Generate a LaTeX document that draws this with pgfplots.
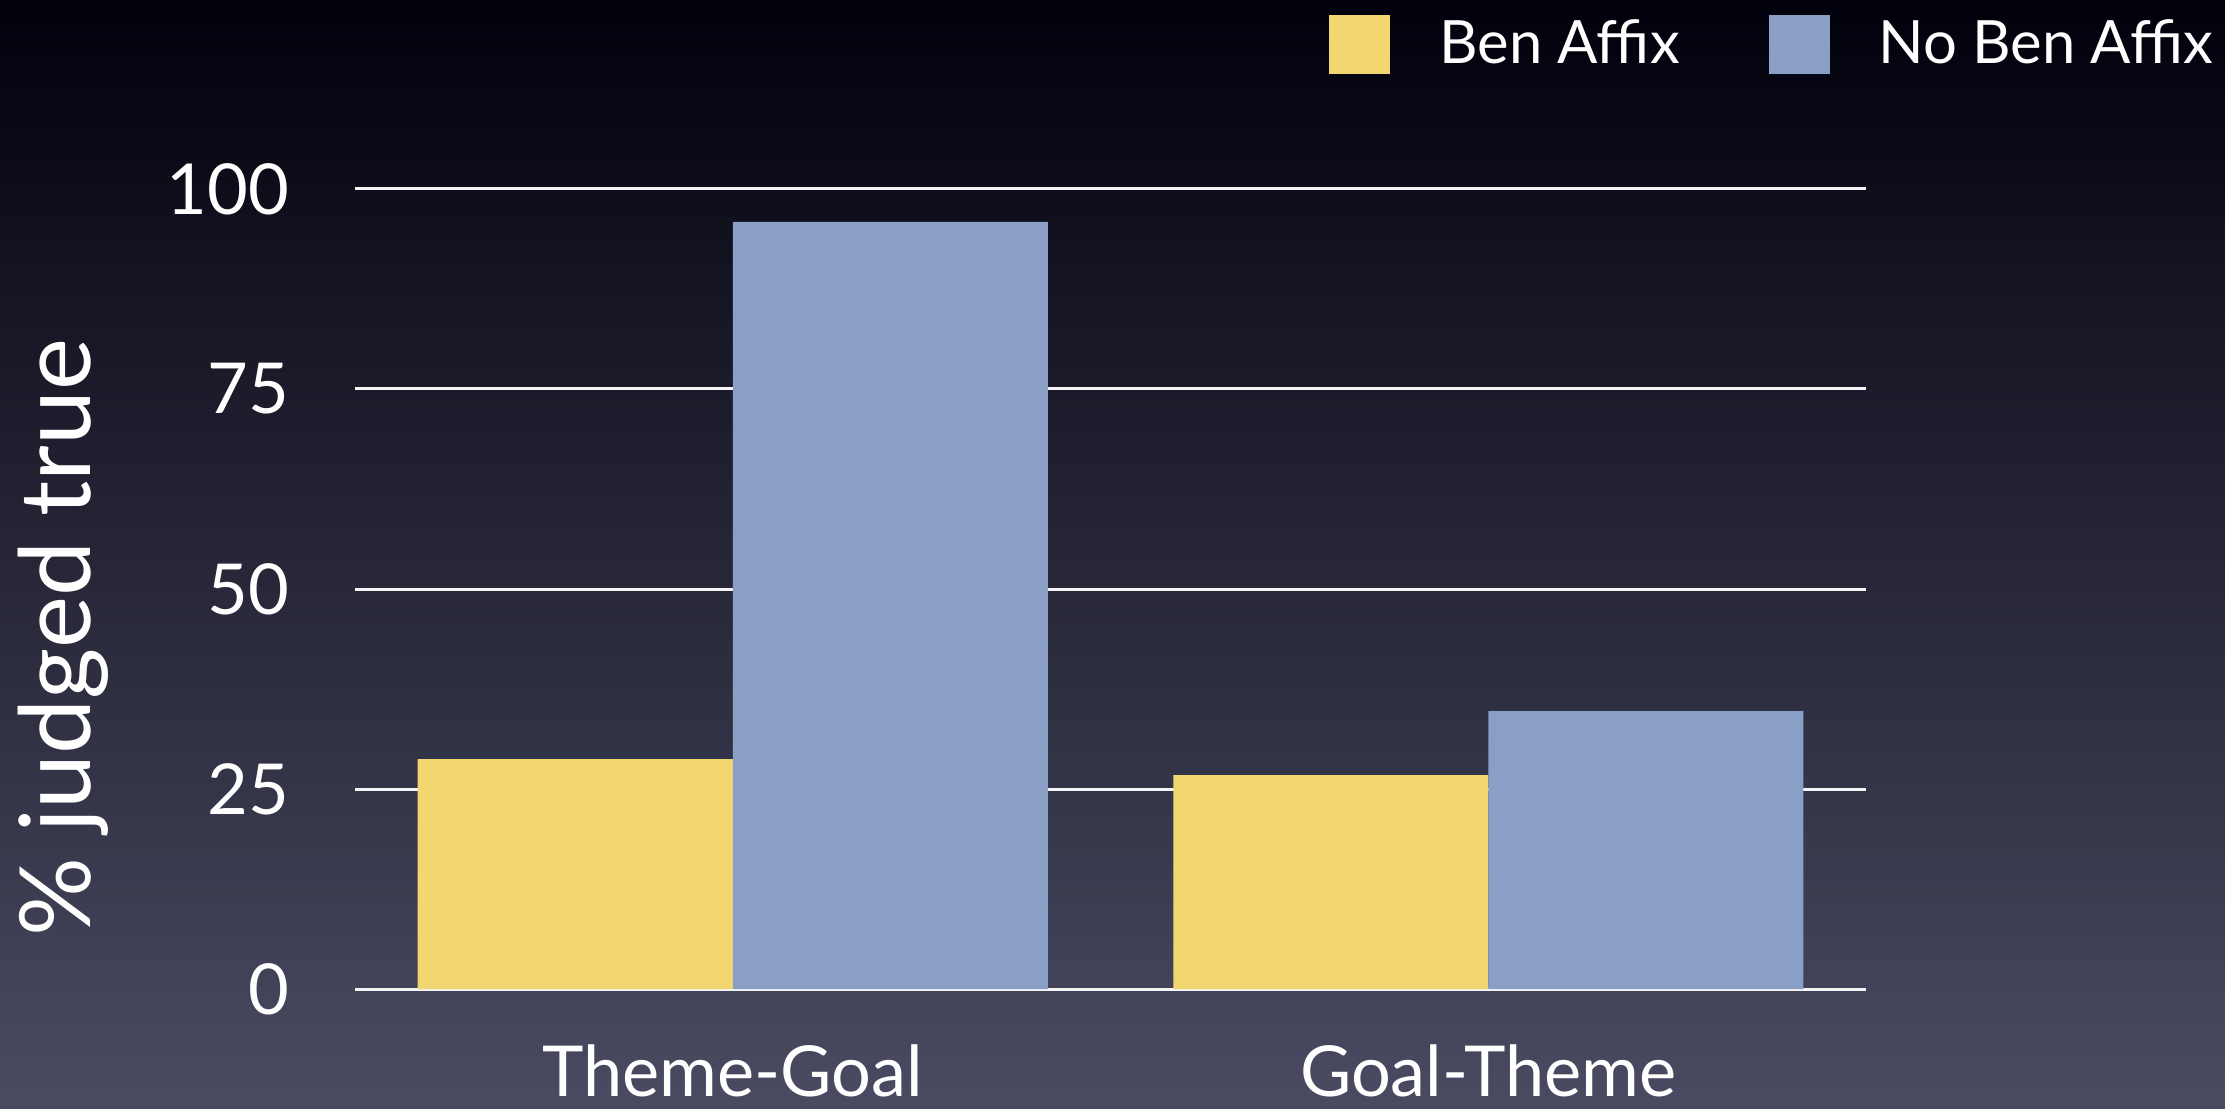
\documentclass[border=0pt]{standalone}
\usepackage{pgfplots}
\pgfplotsset{compat=1.18}
\usepackage{fontspec}
\setmainfont{Lato}
\definecolor{benyellow}{RGB}{242,215,112}
\definecolor{noblue}{RGB}{137,159,198}
\definecolor{bgtop}{RGB}{1,1,12}
\definecolor{bgmid}{RGB}{16,19,44}
\definecolor{bgbot}{RGB}{74,74,98}
\begin{document}
\begin{tikzpicture}
\shade[top color=bgtop, middle color=bgmid, bottom color=bgbot] (0,0) rectangle (222.5mm,110.8mm);
\begin{axis}[
  at={(35.5mm,11.9mm)}, anchor=south west,
  scale only axis, width=151.1mm, height=80mm,
  xmin=-0.5, xmax=1.5, ymin=0, ymax=100,
  ybar=0pt, bar width=31.5mm,
  axis line style={draw=none},
  major tick length=0pt,
  xtick={0,1}, xticklabels={Theme-Goal, Goal-Theme},
  ytick={0,25,50,75,100},
  ymajorgrids, grid style={draw=white!92!gray, line width=0.3mm},
  /pgf/number format/assume math mode=true,
  ticklabel style={font=\fontsize{20}{24}\selectfont, text=white},
  yticklabel style={anchor=east, inner sep=0pt, xshift=-6.5mm},
  xticklabel style={anchor=base, inner sep=0pt, yshift=-10.7mm},
  ylabel={\% judged true},
  every axis y label/.style={at={(axis description cs:-0.193,0.439)}, rotate=90, anchor=center, font=\fontsize{28}{32}\selectfont, text=white},
  legend columns=2,
  legend style={at={(1.23,1.219)}, anchor=north east, draw=none, fill=none, text=white,
    font=\fontsize{17}{20}\selectfont, inner sep=0pt, nodes={inner sep=0pt},
    /tikz/every odd column/.append style={column sep=4.9mm},
    /tikz/every even column/.append style={column sep=8.9mm}},
  legend image code/.code={\fill[#1] (0mm,-2.95mm) rectangle (6.1mm,2.95mm);},
]
\addplot[fill=benyellow, draw=none] coordinates {(0,28.75) (1,26.75)};
\addlegendentry{Ben Affix}
\addplot[fill=noblue, draw=none] coordinates {(0,95.9) (1,34.75)};
\addlegendentry{No Ben Affix}
\end{axis}
\end{tikzpicture}
\end{document}
